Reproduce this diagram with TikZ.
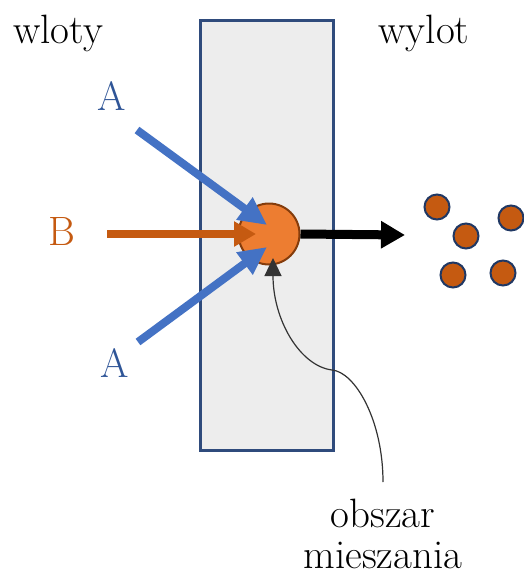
\documentclass[tikz,border=0pt]{standalone}
\usepackage{fontspec}
\usetikzlibrary{arrows.meta}

\definecolor{wallgray}{HTML}{EDEDED}
\definecolor{walledge}{HTML}{2F4B7C}
\definecolor{feedA}{HTML}{4472C4}
\definecolor{labelA}{HTML}{2F5597}
\definecolor{feedB}{HTML}{C55A11}
\definecolor{mixorange}{HTML}{ED7D31}
\definecolor{mixedge}{HTML}{843C0C}
\definecolor{dotedge}{HTML}{203864}

\begin{document}
\begin{tikzpicture}[x=1pt,y=-1pt,
  lbl/.style={font=\fontsize{41}{45}\selectfont,inner sep=0pt,anchor=base},
  feed/.style={line width=8pt,-{Triangle[length=28pt,width=26pt]}},
  product/.style={circle,draw=dotedge,fill=feedB,line width=2pt,
    minimum size=25pt,inner sep=0pt}]

\useasboundingbox (0,0) rectangle (523,579);

% Wall
\draw[fill=wallgray,draw=walledge,line width=3pt] (200,20) rectangle (333,450);

% Mixing zone
\node[circle,fill=mixorange,draw=mixedge,line width=2pt,
  minimum size=61pt,inner sep=0pt] (mix) at (269,234) {};

% Labels
\node[lbl] (wloty) at (58,43) {wloty};
\node[lbl] (wylot) at (424,43) {wylot};
\node[lbl,text=labelA] (labA1) at (112,110) {A};
\node[lbl,text=feedB] (labB) at (62,245) {B};
\node[lbl,text=labelA] (labA2) at (115,377) {A};
\node[lbl] (obszar) at (383,527) {obszar};
\node[lbl] (mieszania) at (383,568) {mieszania};

% Coordinates
\coordinate (inA1) at (137,130);
\coordinate (inB) at (107,234);
\coordinate (inA2) at (138,342);
\coordinate (tipA1) at (267,225);
\coordinate (tipB) at (256,234);
\coordinate (tipA2) at (267,247);
\coordinate (outEnd) at (405,235);
\coordinate (calloutStart) at (383,482);
\coordinate (calloutTip) at (273,258);

% Feed arrows
\draw[feed,draw=feedA,fill=feedA] (inA1) -- (tipA1);
\draw[feedB,line width=8pt,-{Triangle[length=22pt,width=24pt]}] (inB) -- (tipB);
\draw[feed,draw=feedA,fill=feedA] (inA2) -- (tipA2);

% Outlet arrow
\draw[line width=9pt,-{Triangle[length=24pt,width=26pt]}] (mix.east) -- (outEnd);

% Products
\node[product] (p1) at (437,207) {};
\node[product] (p2) at (511,218) {};
\node[product] (p3) at (466,236) {};
\node[product] (p4) at (453,275) {};
\node[product] (p5) at (503,273) {};

% Callout
\draw[black!80,line width=1.2pt,-{Triangle[length=18pt,width=17pt]}]
  (calloutStart) .. controls (383,420) and (355,372) .. (332,370)
  .. controls (300,366) and (273,320) .. (calloutTip);

\end{tikzpicture}
\end{document}
